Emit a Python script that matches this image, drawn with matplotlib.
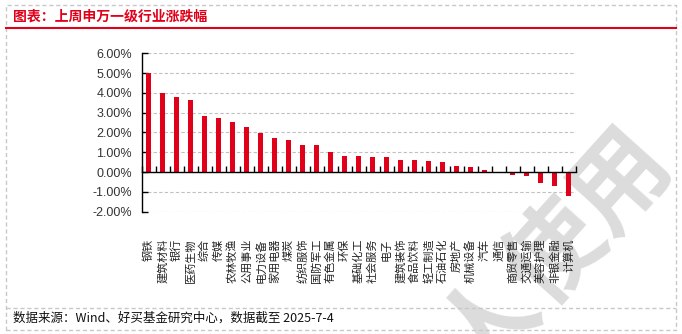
import matplotlib
matplotlib.use('Agg')
import matplotlib.pyplot as plt
from matplotlib.lines import Line2D
from matplotlib.patches import Rectangle
from matplotlib.ticker import FuncFormatter, MultipleLocator
import numpy as np

plt.rcParams['font.family'] = ['Noto Sans CJK SC', 'DejaVu Sans']

industries = ['钢铁', '建筑材料', '银行', '医药生物', '综合', '传媒', '农林牧渔', '公用事业',
              '电力设备', '家用电器', '煤炭', '纺织服饰', '国防军工', '有色金属', '环保',
              '基础化工', '社会服务', '电子', '建筑装饰', '食品饮料', '轻工制造', '石油石化',
              '房地产', '机械设备', '汽车', '通信', '商贸零售', '交通运输', '美容护理',
              '非银金融', '计算机']
weekly_change = [5.00, 3.97, 3.77, 3.62, 2.82, 2.72, 2.52, 2.27,
                 1.97, 1.72, 1.62, 1.37, 1.37, 1.02, 0.82,
                 0.82, 0.77, 0.77, 0.62, 0.62, 0.57, 0.52,
                 0.32, 0.27, 0.12, -0.07, -0.13, -0.18, -0.53,
                 -0.68, -1.23]

title = '图表：上周申万一级行业涨跌幅'
source = '数据来源：Wind、好买基金研究中心，数据截至 2025-7-4'

RED = '#E00019'
W, H = 682, 334

fig = plt.figure(figsize=(W / 100, H / 100), dpi=100)
ax = fig.add_axes([141.7 / W, 1 - 211.7 / H, 434 / W, 158.4 / H])
ax.patch.set_visible(False)

x = np.arange(len(industries))
ax.bar(x, weekly_change, width=0.37, color=RED, zorder=3)

ax.set_xlim(-0.5, len(industries) - 0.5)
ax.set_ylim(-2, 6)
ax.yaxis.set_major_locator(MultipleLocator(1))
ax.yaxis.set_major_formatter(FuncFormatter(lambda v, p: f'{v:.2f}%'))
ax.grid(axis='y', color='#c0c0c0', linestyle=(0, (3, 2)), linewidth=0.8, zorder=0)

for s in ['top', 'right']:
    ax.spines[s].set_visible(False)
ax.spines['left'].set_linewidth(1.0)
ax.spines['bottom'].set_position(('data', 0))
ax.spines['bottom'].set_linewidth(1.0)
ax.spines['bottom'].set_zorder(4)

ax.tick_params(axis='y', direction='in', length=4, width=1, pad=7,
               labelsize=9, labelcolor='#333333', labelfontfamily='Liberation Sans')
ax.set_xticks([])
ax.set_xticks(np.arange(-0.5, len(industries)), minor=True)
ax.tick_params(axis='x', which='minor', direction='in', length=4, width=1)

# category names sit below the plot area, rotated
for i, name in enumerate(industries):
    ax.text(i, -0.168, name, transform=ax.get_xaxis_transform(), rotation=90,
            ha='center', va='top', fontsize=8, color='#222222')

# header, footer and frame
fig.text(13 / W, 1 - 16.5 / H, title, color=RED, fontsize=10, fontweight='bold',
         ha='left', va='center')
fig.add_artist(Line2D([5.7 / W, 676 / W], [1 - 28.3 / H, 1 - 28.3 / H],
                      color=RED, linewidth=1.5, transform=fig.transFigure))
fig.text(13 / W, 1 - 318 / H, source, fontsize=9, color='#111111', ha='left', va='center')
fig.add_artist(Line2D([5.7 / W, 676 / W], [1 - 308.3 / H, 1 - 308.3 / H],
                      color='#c8c8c8', linewidth=1, linestyle=(0, (3, 2)),
                      transform=fig.transFigure))
fig.add_artist(Rectangle((5.7 / W, 1 - 330 / H), (676 - 5.7) / W, (330 - 4.7) / H,
                         fill=False, edgecolor='#c8c8c8', linewidth=1,
                         linestyle=(0, (3, 2)), transform=fig.transFigure))

# watermark
fig.text(492 / W, 1 - 326 / H, '接收人使用', fontsize=70, color='#dcdcdc',
         fontweight='bold', rotation=48, ha='center', va='center', zorder=-1)

fig.savefig('out.png', dpi=100)
